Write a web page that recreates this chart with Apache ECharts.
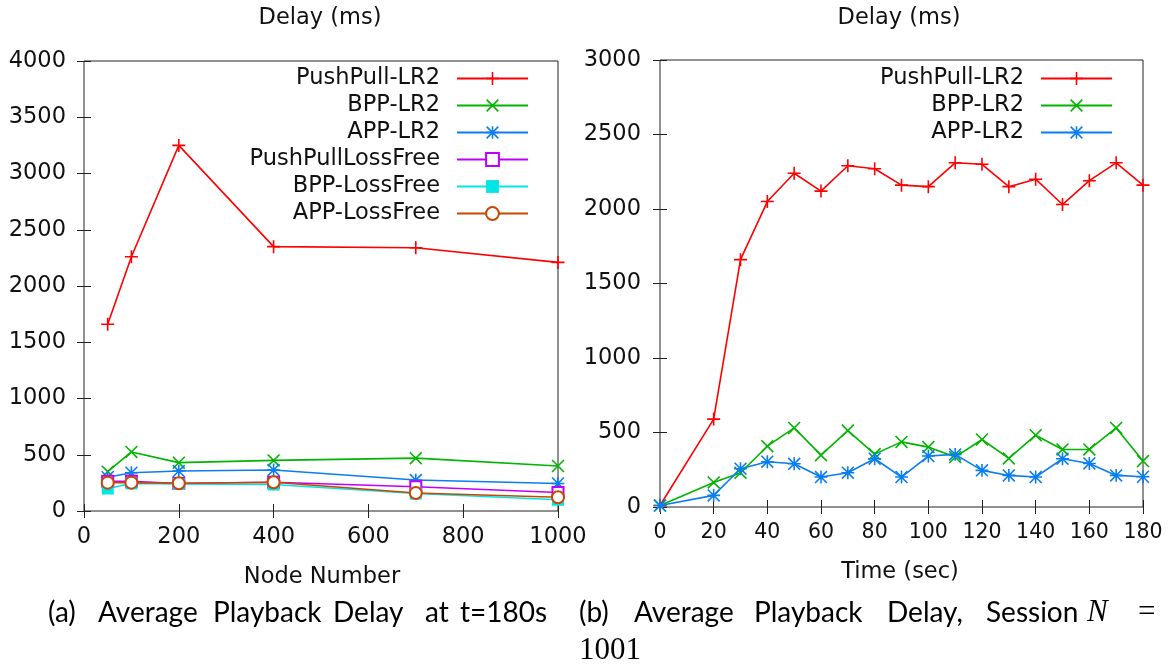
<!DOCTYPE html>
<html>
<head>
<meta charset="utf-8">
<title>Average Playback Delay</title>
<script src="https://cdn.jsdelivr.net/npm/echarts@6/dist/echarts.min.js"></script>
<style>
  html, body { margin: 0; padding: 0; background: #ffffff; }
  #chart { width: 1173px; height: 669px; }
</style>
</head>
<body>
<div id="chart"></div>
<script>
// (a) Average playback delay at t = 180 s versus number of nodes
const nodeNumbers = [50, 100, 200, 400, 700, 1000];
const pushPullLR2 = [1660, 2260, 3250, 2350, 2340, 2210];
const bppLR2 = [350, 525, 430, 450, 470, 400];
const appLR2 = [300, 340, 355, 365, 275, 245];
const pushPullLossFree = [265, 265, 245, 255, 215, 165];
const bppLossFree = [200, 245, 240, 235, 155, 100];
const appLossFree = [252, 252, 246, 255, 160, 122];

// (b) Average playback delay over time, session N = 1001
const times = [0, 20, 30, 40, 50, 60, 70, 80, 90, 100, 110, 120, 130, 140, 150, 160, 170, 180];
const pushPullLR2Time = [10, 590, 1660, 2050, 2240, 2120, 2290, 2270, 2160, 2150, 2310, 2300, 2150, 2200, 2030, 2190, 2310, 2160];
const bppLR2Time = [10, 165, 230, 408, 531, 348, 513, 355, 437, 402, 335, 453, 326, 482, 386, 386, 531, 308];
const appLR2Time = [10, 78, 257, 304, 290, 201, 230, 324, 201, 342, 353, 246, 212, 201, 324, 292, 212, 203];

// Axis ticks
const nodeTicks = { min: 0, max: 1000, interval: 200 };
const timeTicks = { min: 0, max: 180, interval: 20 };
const delayTicksA = { min: 0, max: 4000, interval: 500 };
const delayTicksB = { min: 0, max: 3000, interval: 500 };

// gnuplot-style point glyphs
const PLUS = 'path://M-0.8,-6.5H0.8V6.5H-0.8Z M-6.5,-0.8H6.5V0.8H-6.5Z';
const CROSS = 'path://M-5.434,-6.566L6.566,5.434L5.434,6.566L-6.566,-5.434Z M-6.566,5.434L5.434,-6.566L6.566,-5.434L-5.434,6.566Z';
const STAR = 'path://M-0.8,-6.5H0.8V6.5H-0.8Z M-6.5,-0.8H6.5V0.8H-6.5Z ' +
  'M-5.434,-6.566L6.566,5.434L5.434,6.566L-6.566,-5.434Z M-6.566,5.434L5.434,-6.566L6.566,-5.434L-5.434,6.566Z';

const RED = '#ff0000', GREEN = '#00b400', BLUE = '#0a7ef0',
      PURPLE = '#c000ff', CYAN = '#00e6e6', BROWN = '#c84800';

const SANS = 'DejaVu Sans';
const TEXT = '#111111';
const FS = 22.5;

function pairs(xs, ys) { return xs.map((x, i) => [x, ys[i]]); }

function lineSeries(name, color, symbol, size, xIdx, xs, ys, empty) {
  return {
    name: name,
    type: 'line',
    xAxisIndex: xIdx,
    yAxisIndex: xIdx,
    data: pairs(xs, ys),
    symbol: symbol,
    symbolSize: size,
    showAllSymbol: true,
    lineStyle: { color: color, width: 1.6 },
    itemStyle: { color: color, borderColor: color, borderWidth: empty ? 1.6 : 0 },
    emphasis: { disabled: true },
    z: 3
  };
}

function valueAxis(grid, ticks, pos, showLabel, labelSize, margin) {
  return {
    type: 'value',
    gridIndex: grid,
    position: pos,
    min: ticks.min, max: ticks.max, interval: ticks.interval,
    axisLine: { show: false },
    axisTick: { show: true, inside: true, length: 7, lineStyle: { color: '#222', width: 1 } },
    axisLabel: {
      show: showLabel, margin: margin, fontFamily: SANS, fontSize: labelSize, color: TEXT,
      formatter: v => String(v)
    },
    splitLine: { show: false }
  };
}

function legendFor(names, right) {
  return {
    orient: 'vertical',
    align: 'right',
    right: right,
    top: 67,
    padding: 0,
    itemGap: 4,
    itemWidth: 71,
    itemHeight: 16,
    selectedMode: false,
    data: names,
    textStyle: {
      fontFamily: SANS, fontSize: FS, color: TEXT, lineHeight: 23,
      padding: [0, 12, 0, 0]
    }
  };
}

function label(text, x, y, opts) {
  return {
    type: 'text', x: x, y: y, silent: true,
    style: Object.assign({
      text: text, fontFamily: SANS, fontSize: FS, fill: TEXT,
      align: 'center', verticalAlign: 'middle'
    }, opts || {})
  };
}

const CAPTION = { fontFamily: 'Lato', fontSize: 28, align: 'left', fill: '#000' };
const MATH = { fontFamily: 'Liberation Serif', fontSize: 31, align: 'left', fill: '#000' };

const chart = echarts.init(document.getElementById('chart'), null, { renderer: 'canvas' });

chart.setOption({
  animation: false,
  backgroundColor: '#ffffff',
  grid: [
    { left: 84, top: 61, width: 474, height: 450, show: true, borderColor: '#222', borderWidth: 1, backgroundColor: 'transparent' },
    { left: 660, top: 60, width: 483, height: 447, show: true, borderColor: '#222', borderWidth: 1, backgroundColor: 'transparent' }
  ],
  xAxis: [
    valueAxis(0, nodeTicks, 'bottom', true, FS, 15),
    valueAxis(0, nodeTicks, 'top', false, FS, 15),
    valueAxis(1, timeTicks, 'bottom', true, 20.5, 15),
    valueAxis(1, timeTicks, 'top', false, 20.5, 15)
  ],
  yAxis: [
    valueAxis(0, delayTicksA, 'left', true, FS, 18),
    valueAxis(0, delayTicksA, 'right', false, FS, 18),
    valueAxis(1, delayTicksB, 'left', true, FS, 19),
    valueAxis(1, delayTicksB, 'right', false, FS, 19)
  ],
  legend: [
    legendFor(['PushPull-LR2', 'BPP-LR2', 'APP-LR2', 'PushPullLossFree', 'BPP-LossFree', 'APP-LossFree'], 1173 - 529),
    legendFor(['PushPull-LR2', 'BPP-LR2', 'APP-LR2'], 1173 - 1113)
  ],
  series: [
    lineSeries('PushPull-LR2', RED, PLUS, 13, 0, nodeNumbers, pushPullLR2),
    lineSeries('BPP-LR2', GREEN, CROSS, 13, 0, nodeNumbers, bppLR2),
    lineSeries('APP-LR2', BLUE, STAR, 13, 0, nodeNumbers, appLR2),
    lineSeries('PushPullLossFree', PURPLE, 'emptyRect', 11, 0, nodeNumbers, pushPullLossFree, true),
    lineSeries('BPP-LossFree', CYAN, 'rect', 12, 0, nodeNumbers, bppLossFree),
    lineSeries('APP-LossFree', BROWN, 'emptyCircle', 12, 0, nodeNumbers, appLossFree, true),

    lineSeries('PushPull-LR2', RED, PLUS, 13, 2, times, pushPullLR2Time),
    lineSeries('BPP-LR2', GREEN, CROSS, 13, 2, times, bppLR2Time),
    lineSeries('APP-LR2', BLUE, STAR, 13, 2, times, appLR2Time)
  ],
  graphic: [
    label('Delay (ms)', 320, 18),
    label('Delay (ms)', 899, 18),
    label('Node Number', 322, 577),
    label('Time (sec)', 900, 572),

    // caption (a)
    label('(a)', 48, 613, CAPTION),
    label('Average', 98, 613, CAPTION),
    label('Playback', 213, 613, CAPTION),
    label('Delay', 333, 613, CAPTION),
    label('at', 425, 613, CAPTION),
    label('t=180s', 460, 613, CAPTION),

    // caption (b)
    label('(b)', 579, 613, CAPTION),
    label('Average', 634, 613, CAPTION),
    label('Playback', 754, 613, CAPTION),
    label('Delay,', 887, 613, CAPTION),
    label('Session', 986, 613, CAPTION),
    label('N', 1087, 613, Object.assign({}, MATH, { fontStyle: 'italic' })),
    label('=', 1138, 613, MATH),
    label('1001', 579, 651, MATH)
  ]
});
</script>
</body>
</html>
